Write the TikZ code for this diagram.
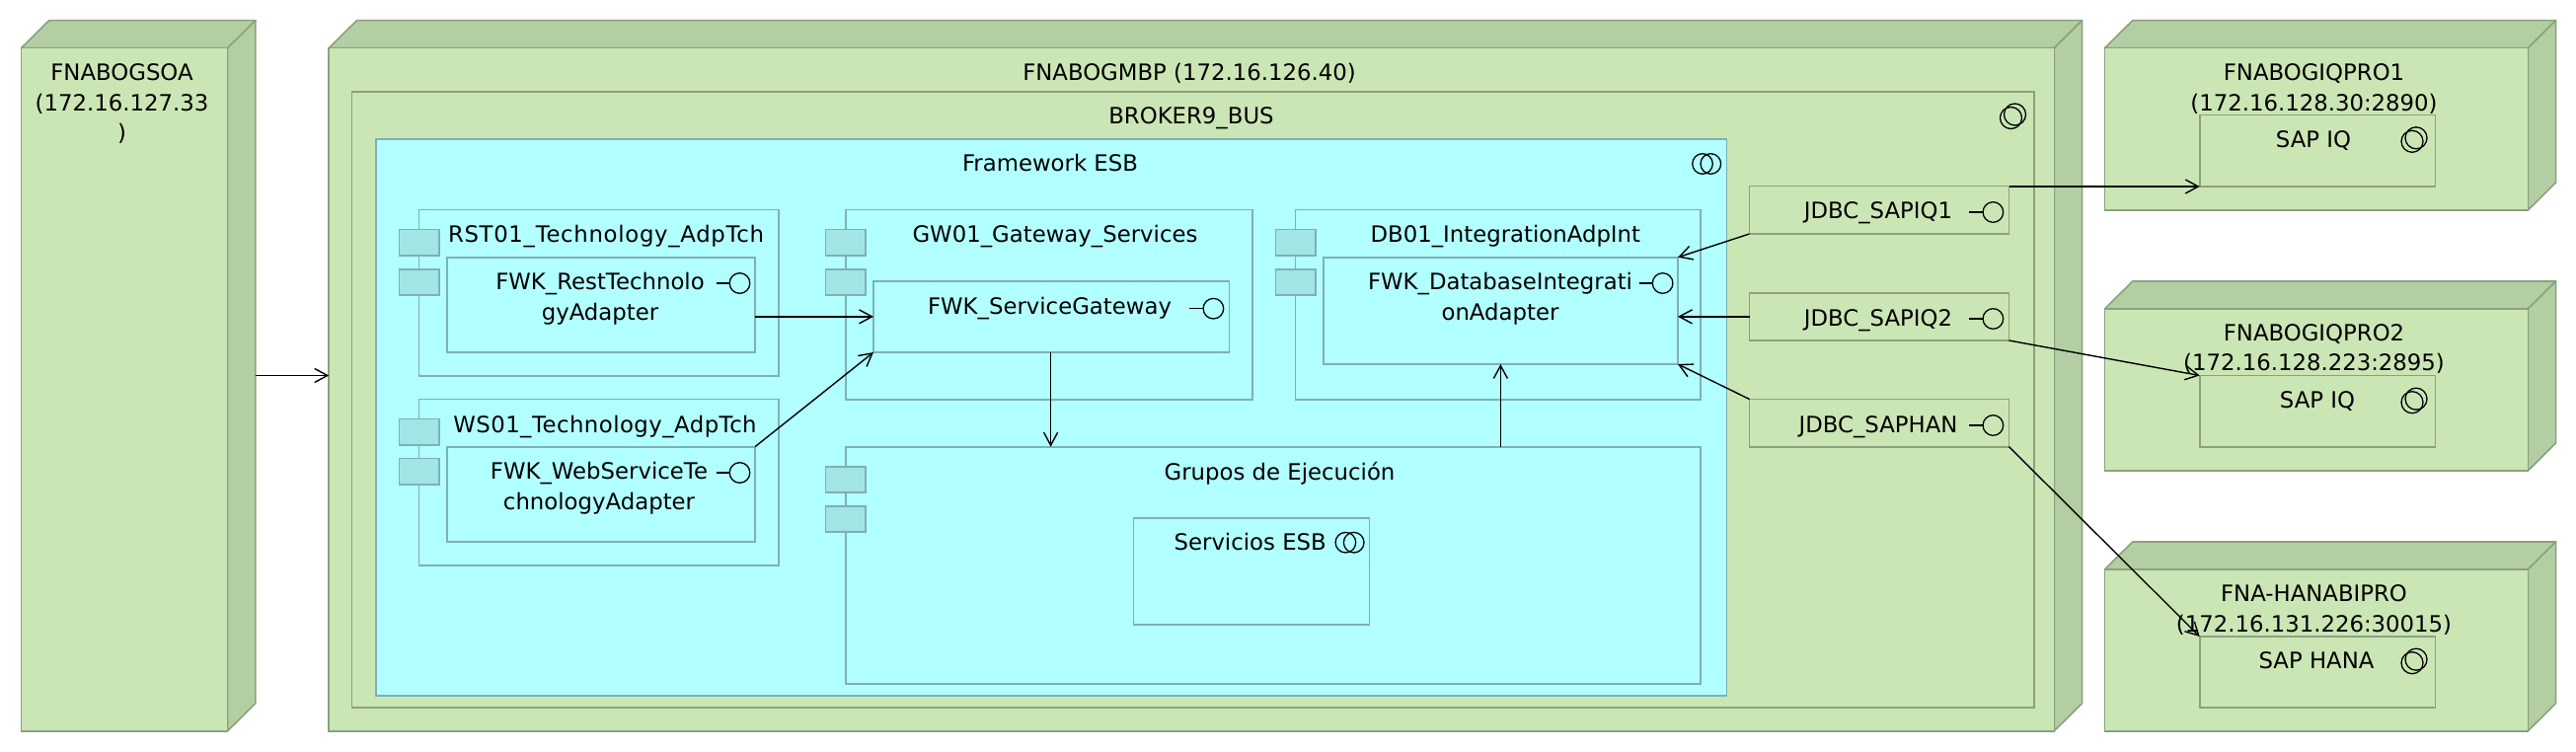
\documentclass[tikz,border=0pt]{standalone}
\usepackage{fontspec}
\setmainfont{DejaVu Sans}
\usetikzlibrary{arrows.meta,calc}
\definecolor{nodefill}{HTML}{CBE6B5}
\definecolor{nodeside}{HTML}{B3CEA3}
\definecolor{nodeline}{HTML}{8BA27D}
\definecolor{cyanfill}{HTML}{B2FFFF}
\definecolor{cyanline}{HTML}{7FB0B5}
\definecolor{portfill}{HTML}{A2E5E5}
\tikzset{
  box/.style={draw,line width=1.6pt,inner sep=0pt,outer sep=0pt,rectangle},
  greenbox/.style={box,draw=nodeline,fill=nodefill},
  bluebox/.style={box,draw=cyanline,fill=cyanfill},
  portbox/.style={box,draw=cyanline,fill=portfill},
  sidepoly/.style={draw=nodeline,fill=nodeside,line width=1.6pt,line join=round},
  txt/.style={anchor=base,inner sep=0pt,outer sep=0pt,align=center,text=black,font=\fontsize{22.8}{30.5}\selectfont},
  icon/.style={draw=black,line width=1.3pt,fill=none},
  conn/.style={draw=black,line width=1.4pt,-{Straight Barb[length=13pt,width=14pt,line width=1.4pt]}}
}
% rectangle node from its corners: style, name, x0, y0, x1, y1
\newcommand\rbox[6]{%
  \pgfmathsetmacro\bw{#5-#3}\pgfmathsetmacro\bh{#6-#4}%
  \pgfmathsetmacro\bx{(#3+#5)/2}\pgfmathsetmacro\by{(#4+#6)/2}%
  \node[#1,minimum width=\bw pt,minimum height=\bh pt] (#2) at (\bx,\by) {};}
% 3D deployment node: name, x0, y0 (front top), x1 (front right), y1
\newcommand\cube[5]{%
  \pgfmathsetmacro\sx{#4+28.3}\pgfmathsetmacro\sy{#3-28}\pgfmathsetmacro\sb{#5-28}\pgfmathsetmacro\tx{#2+28.3}%
  \filldraw[sidepoly] (#2,#3) -- (\tx,\sy) -- (\sx,\sy) -- (#4,#3) -- cycle;
  \filldraw[sidepoly] (#4,#3) -- (\sx,\sy) -- (\sx,\sb) -- (#4,#5) -- cycle;
  \rbox{greenbox}{#1}{#2}{#3}{#4}{#5}}
% component ports: name, x of component left edge, y of component top
\newcommand\ports[3]{%
  \pgfmathsetmacro\pa{#3+20}\pgfmathsetmacro\pb{#3+46.3}\pgfmathsetmacro\pc{#3+60}\pgfmathsetmacro\pd{#3+86.3}%
  \pgfmathsetmacro\pl{#2-20.2}\pgfmathsetmacro\pr{#2+20.3}%
  \rbox{portbox}{#1a}{\pl}{\pa}{\pr}{\pb}
  \rbox{portbox}{#1b}{\pl}{\pc}{\pr}{\pd}}
% lollipop interface: x, y of circle centre
\newcommand\lolly[2]{%
  \draw[icon] (#1,#2) circle (10.3pt);
  \draw[icon] ({#1-24},#2) -- ({#1-9.8},#2);}
% collaboration icons
\newcommand\collabdiag[2]{%
  \draw[icon] (#1,#2) circle (11pt);
  \draw[icon] ({#1+4},{#2-3.5}) circle (11pt);}
\newcommand\collabside[2]{%
  \draw[icon] (#1,#2) circle (10.3pt);
  \draw[icon] ({#1+8.3},#2) circle (10.3pt);}
\newcommand\lbl[4]{\node[txt] (#1) at (#2,#3) {#4};}
\begin{document}
\begin{tikzpicture}[x=1pt,y=-1pt]
\useasboundingbox (0,0) rectangle (2610,762);
% deployment nodes
\cube{soa}{21.4}{48.7}{230.6}{740.7}
\cube{gmbp}{333.2}{48.7}{2081.3}{740.7}
\cube{iqa}{2132.4}{48.7}{2561.3}{213}
\cube{iqb}{2132.4}{313}{2561.3}{477}
\cube{hana}{2132.4}{577}{2561.3}{740.7}
% bus and framework
\rbox{greenbox}{bus}{356.6}{93}{2061}{717}
\rbox{bluebox}{fwk}{381}{141}{1749.3}{705}
% components
\rbox{bluebox}{rst}{424.6}{212.7}{789}{381}
\ports{rstp}{424.6}{212.7}
\rbox{bluebox}{rstin}{452.7}{260.7}{765}{357}
\rbox{bluebox}{ws}{424.6}{404.5}{789}{573}
\ports{wsp}{424.6}{404.5}
\rbox{bluebox}{wsin}{452.7}{452.7}{765}{549}
\rbox{bluebox}{gw}{856.8}{212.7}{1269}{404.7}
\ports{gwp}{856.8}{212.7}
\rbox{bluebox}{gwin}{885}{284.7}{1245.5}{357}
\rbox{bluebox}{db}{1312.6}{212.7}{1723.2}{404.7}
\ports{dbp}{1312.6}{212.7}
\rbox{bluebox}{dbin}{1340.8}{260.7}{1700}{369}
\rbox{bluebox}{grp}{856.8}{452.7}{1723.2}{693}
\ports{grpp}{856.8}{452.7}
\rbox{bluebox}{srv}{1148.5}{524.7}{1387.3}{633}
% JDBC
\rbox{greenbox}{jdbca}{1772.5}{188.7}{2035.5}{237}
\rbox{greenbox}{jdbcb}{1772.5}{296.7}{2035.5}{345}
\rbox{greenbox}{jdbcc}{1772.5}{404.5}{2035.5}{452.7}
% targets
\rbox{greenbox}{sapa}{2228.7}{116.7}{2467.3}{189}
\rbox{greenbox}{sapb}{2228.7}{380.5}{2467.3}{452.7}
\rbox{greenbox}{sapc}{2228.7}{645}{2467.3}{717}
% icons
\lolly{749.5}{287}
\lolly{749.5}{479}
\lolly{1229.4}{312.7}
\lolly{1684.6}{287}
\lolly{2019.4}{215}
\lolly{2019.4}{323}
\lolly{2019.4}{431}
\collabdiag{2037.5}{119.5}
\collabdiag{2444}{143.3}
\collabdiag{2444}{407.7}
\collabdiag{2444}{671.7}
\collabside{1725}{166}
\collabside{1363.4}{549.7}
% labels
\lbl{tsoa}{123.5}{142.7}{FNABOGSOA\\(172.16.127.33\\)}
\lbl{tgmbp}{1205}{81.7}{FNABOGMBP (172.16.126.40)}
\lbl{tbus}{1207}{125.3}{BROKER9\_BUS}
\lbl{tfwk}{1064}{173.7}{Framework ESB}
\lbl{trst}{614}{246}{\addfontfeature{LetterSpace=3}RST01\_Technology\_AdpTch}
\lbl{trstin}{608}{324}{FWK\_RestTechnolo\\gyAdapter}
\lbl{tws}{613}{438.3}{\addfontfeature{LetterSpace=2}WS01\_Technology\_AdpTch}
\lbl{twsin}{607}{516}{FWK\_WebServiceTe\\chnologyAdapter}
\lbl{tgw}{1069}{246}{GW01\_Gateway\_Services}
\lbl{tgwin}{1063.5}{318.3}{FWK\_ServiceGateway}
\lbl{tdb}{1525.3}{246}{DB01\_IntegrationAdpInt}
\lbl{tdbin}{1520}{324}{FWK\_DatabaseIntegrati\\onAdapter}
\lbl{tgrp}{1296.5}{486}{Grupos de Ejecución}
\lbl{tsrv}{1266.7}{557.7}{Servicios ESB}
\lbl{tja}{1903}{221.7}{JDBC\_SAPIQ1}
\lbl{tjb}{1903}{330}{JDBC\_SAPIQ2}
\lbl{tjc}{1903}{438}{JDBC\_SAPHAN}
\lbl{tiqa}{2344.5}{112.3}{FNABOGIQPRO1\\(172.16.128.30:2890)}
\lbl{tiqb}{2344.5}{375.7}{FNABOGIQPRO2\\(172.16.128.223:2895)}
\lbl{thana}{2344.5}{640}{FNA-HANABIPRO\\(172.16.131.226:30015)}
\lbl{tsapa}{2344}{150}{SAP IQ}
\lbl{tsapb}{2348}{413.7}{SAP IQ}
\lbl{tsapc}{2347}{677.3}{SAP HANA}
% connectors
\coordinate (soaout) at (259.2,380.5);
\coordinate (gmbpin) at (333.2,380.5);
\coordinate (gwdown) at (1064.6,357);
\coordinate (grpdown) at (1064.6,452.7);
\draw[conn] (soaout) -- (gmbpin);
\draw[conn] (rstin.east |- gwin.west) -- (gwin.west);
\draw[conn] (wsin.north east) -- (gwin.south west);
\draw[conn] (gwdown) -- (grpdown);
\draw[conn] (grp.north -| dbin.south) -- (dbin.south);
\draw[conn] (jdbca.south west) -- (dbin.north east);
\draw[conn] (jdbcb.west) -- (jdbcb.west -| dbin.east);
\draw[conn] (jdbcc.north west) -- (dbin.south east);
\draw[conn] (jdbca.south east |- sapa.south east) -- (sapa.south west);
\draw[conn] (jdbcb.south east) -- (sapb.north west);
\draw[conn] (jdbcc.south east) -- (sapc.north west);
\end{tikzpicture}
\end{document}
